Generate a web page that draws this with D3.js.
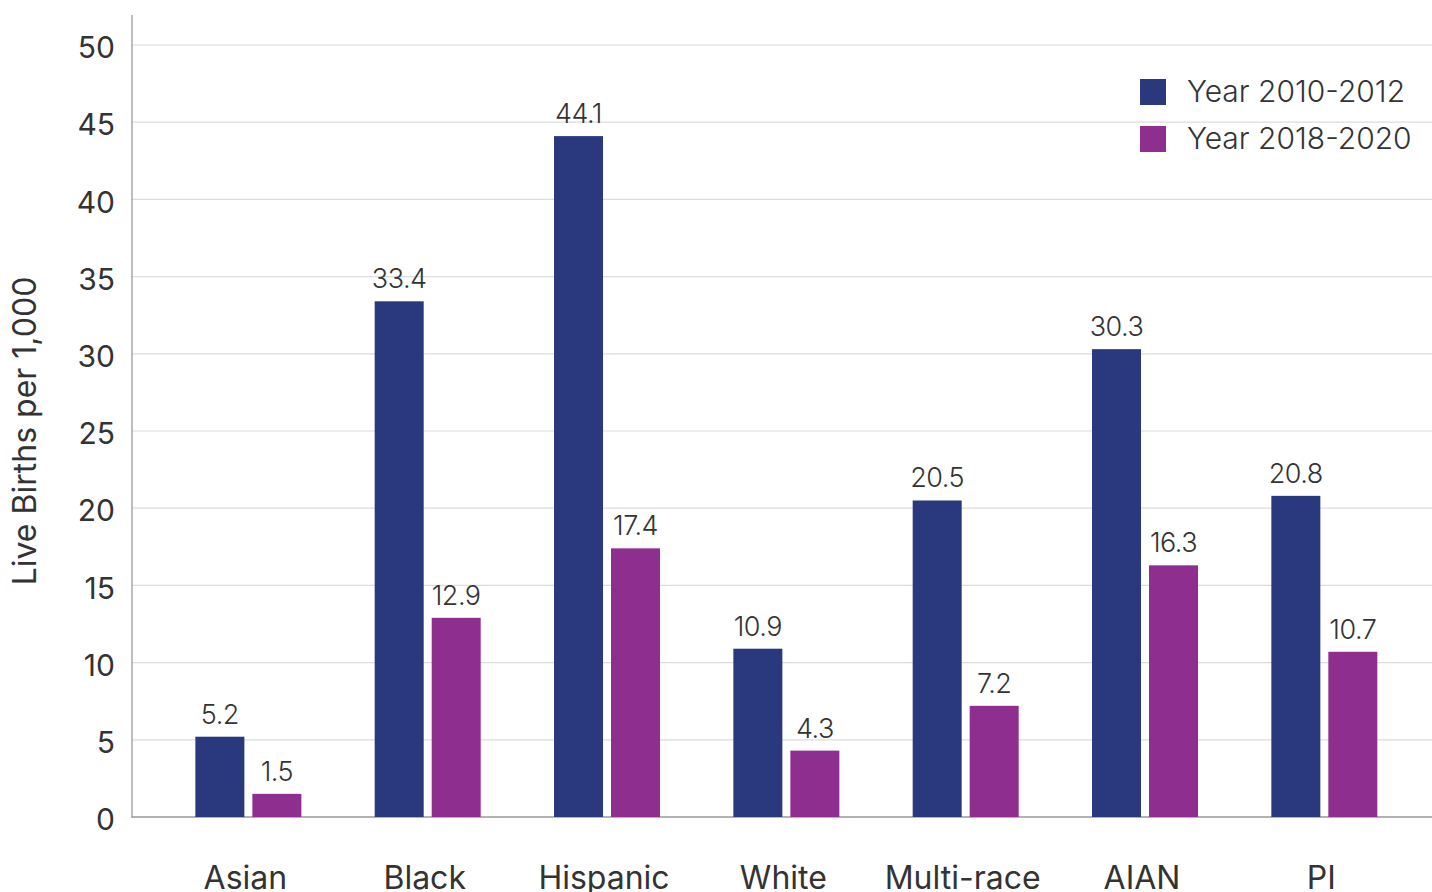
<!DOCTYPE html>
<html><head><meta charset="utf-8">
<script src="https://cdn.jsdelivr.net/npm/d3@7"></script>
<style>
body{margin:0;background:#fff;overflow:hidden}
text{font-family:Inter,"Open Sans",sans-serif;fill:#333}
</style></head>
<body>
<svg id="c" width="1432" height="892"></svg>
<script>
const categories = ["Asian","Black","Hispanic","White","Multi-race","AIAN","PI"];
const series = ["Year 2010-2012","Year 2018-2020"];
const values2010 = [5.2,33.4,44.1,10.9,20.5,30.3,20.8];
const values2018 = [1.5,12.9,17.4,4.3,7.2,16.3,10.7];
const yTicks = [0,5,10,15,20,25,30,35,40,45,50];
const colors = ["#2a387d","#8e2e8e"];

const svg = d3.select("#c");
const y = d3.scaleLinear().domain([0,50]).range([817,45]);
const x = d3.scaleBand().domain(categories).range([158.7,1414]).paddingInner(0).paddingOuter(0);
const barW = 49, gap = 8;

// gridlines
svg.append("g").selectAll("line").data(yTicks.slice(1)).join("line")
  .attr("x1",132).attr("x2",1432).attr("y1",d=>y(d)).attr("y2",d=>y(d))
  .attr("stroke","#dcdcdc").attr("stroke-width",1.2);

// y axis
const yAxis = d3.axisLeft(y).tickValues(yTicks).tickSize(0).tickPadding(18);
const gy = svg.append("g").attr("transform","translate(132,0)").call(yAxis);
gy.select(".domain").remove();
gy.selectAll("text").style("font-size","30px").attr("fill","#333").attr("dy","0.42em")
  .attr("x",-17);
svg.append("line").attr("x1",132).attr("x2",132).attr("y1",15).attr("y2",817.5).attr("stroke","#999").attr("stroke-width",1.3);
svg.append("line").attr("x1",131.5).attr("x2",1432).attr("y1",817).attr("y2",817).attr("stroke","#999").attr("stroke-width",1.5);

// bars
const data = categories.map((c,i)=>({c, v:[values2010[i], values2018[i]]}));
const g = svg.append("g");
data.forEach(d=>{
  const cx = x(d.c) + x.bandwidth()/2;
  d.v.forEach((v,j)=>{
    const bx = j===0 ? cx - gap/2 - barW : cx + gap/2;
    g.append("rect").attr("x",bx).attr("width",barW)
      .attr("y",y(v)).attr("height",y(0)-y(v)).attr("fill",colors[j]);
    g.append("text").attr("x",bx+barW/2).attr("y",y(v)-13)
      .attr("text-anchor","middle").style("font-size","27px").style("font-weight","300")
      .style("letter-spacing","-0.5px").text(v.toFixed(1));
  });
});

// x labels
const xAxis = d3.axisBottom(x).tickSize(0).tickPadding(0);
const gx = svg.append("g").attr("transform","translate(-3,889)").call(xAxis);
gx.select(".domain").remove();
gx.selectAll("text").style("font-size","32px").attr("fill","#333").attr("dy","0");

// y title
svg.append("text").attr("transform","translate(36,431) rotate(-90)")
  .attr("text-anchor","middle").style("font-size","32px").text("Live Births per 1,000");

// legend
const lg = svg.append("g");
series.forEach((s,i)=>{
  lg.append("rect").attr("x",1140).attr("y",79+i*47).attr("width",26).attr("height",26).attr("fill",colors[i]);
  lg.append("text").attr("x",1187).attr("y",102+i*47).style("font-size","30px").style("font-weight","300").text(s);
});
</script>
</body></html>
